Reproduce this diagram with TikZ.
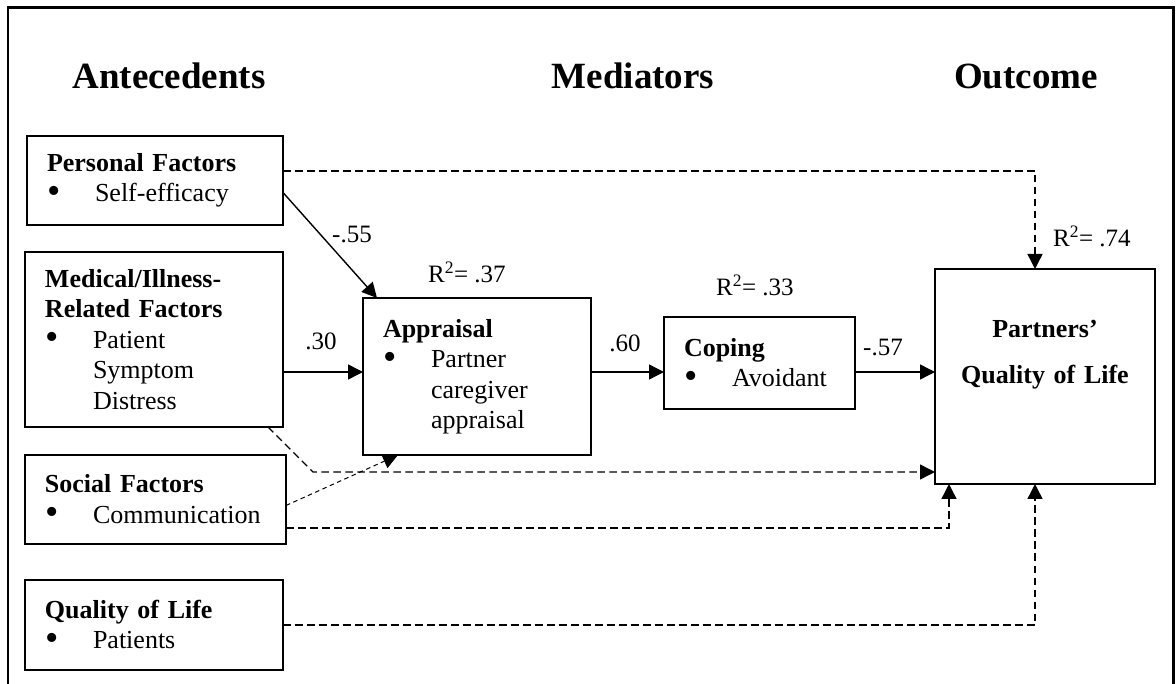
\documentclass[tikz,border=0pt]{standalone}
\usepackage{fontspec}
\setmainfont{Liberation Serif}
\usetikzlibrary{arrows.meta}
\newcommand{\itm}{\makebox[48pt][l]{\hspace{0.5pt}\raisebox{-1.5pt}{\fontsize{38}{30}\selectfont\textbullet}}}
\newcommand{\ind}{\hspace*{48pt}}

\begin{document}
\begin{tikzpicture}[x=1pt, y=-1pt,
		factor/.style={draw, line width=1.8pt, outer sep=0pt, anchor=north west, align=left, inner xsep=20pt, inner ysep=0pt, font=\fontsize{26}{30.5}\selectfont},
		head/.style={anchor=base, font=\bfseries\fontsize{37}{44}\selectfont},
		coef/.style={anchor=base, inner sep=0pt, font=\fontsize{25}{30}\selectfont},
		sig/.style={line width=1.4pt, -{Triangle[length=15pt, width=15pt]}},
		nonsig/.style={sig, dash pattern=on 7.5pt off 4.5pt},
		weak/.style={line width=1pt, dash pattern=on 4.5pt off 3.5pt, -{Triangle[length=15pt, width=15pt]}}]
			%%%%% FRAME %%%%%
			\useasboundingbox (0,0) rectangle (1176,684);
			\draw[line width=2.5pt] (8,684) -- (8,7.5) -- (1173.5,7.5) -- (1173.5,684);
			
			\node[head] (ante) at (169,89) {Antecedents};
			\node[head] (medi) at (633,89) {Mediators};
			\node[head] (outh) at (1026,89) {Outcome};
			
			%%%%% BOXES %%%%%
			\node[factor, text width=216pt, minimum height=89pt] (pers) at (27,136) {\textbf{Personal Factors}\\ \itm Self-efficacy};
			\node[factor, text width=218pt, minimum height=175pt] (med) at (25,252) {\textbf{Medical/Illness-}\\ \textbf{Related Factors}\\ \itm Patient\\ \ind Symptom\\ \ind Distress};
			\node[factor, text width=221pt, minimum height=89pt] (soc) at (25,455) {\textbf{Social Factors}\\ \itm Communication};
			\node[factor, text width=218pt, minimum height=90pt] (qol) at (25,580) {\textbf{Quality of Life}\\ \itm Patients};
			\node[factor, text width=188pt, minimum height=157pt] (appr) at (363,298) {\textbf{Appraisal}\\ \itm Partner\\ \ind caregiver\\ \ind appraisal};
			\node[factor, text width=151pt, minimum height=92pt] (cope) at (664,317) {\textbf{Coping}\\ \itm Avoidant};
			\node[factor, align=center, text width=180pt, minimum height=215pt] (outc) at (935,269) {\textbf{Partners’}\\[16pt] \textbf{Quality of Life}\\[19pt] \mbox{}};
			
			%%%%% COEFFICIENTS %%%%%
			\node[coef] (b55) at (352,243) {-.55};
			\node[coef] (r37) at (467,283) {R\textsuperscript{2}= .37};
			\node[coef] (b30) at (321,350) {.30};
			\node[coef] (b60) at (625,352) {.60};
			\node[coef] (r33) at (755,296) {R\textsuperscript{2}= .33};
			\node[coef] (b57) at (883,356) {-.57};
			\node[coef] (r74) at (1092,247) {R\textsuperscript{2}= .74};
			
			%%%%% PATHS %%%%%
			\coordinate (axis) at (0,372);
			\coordinate (kink) at (313,472);
			\draw[sig] ([yshift=-12pt]pers.east) -- ([xshift=14pt]appr.north west);
			\draw[sig] (med.east |- axis) -- (appr.west |- axis);
			\draw[sig] (appr.east |- axis) -- (cope.west |- axis);
			\draw[sig] (cope.east |- axis) -- (outc.west |- axis);
			\draw[nonsig] ([yshift=9.5pt]pers.east) -| ([xshift=-10pt]outc.north);
			\draw[nonsig] ([xshift=-15pt]med.south east) -- (kink) -- (kink -| outc.west);
			\draw[weak] ([yshift=-6pt]soc.east) -- ([xshift=35pt]appr.south west);
			\draw[nonsig] ([yshift=-28.5pt]soc.east) -| ([xshift=14pt]outc.south west);
			\draw[nonsig] (qol.east) -| ([xshift=-10pt]outc.south);
\end{tikzpicture}
\end{document}
